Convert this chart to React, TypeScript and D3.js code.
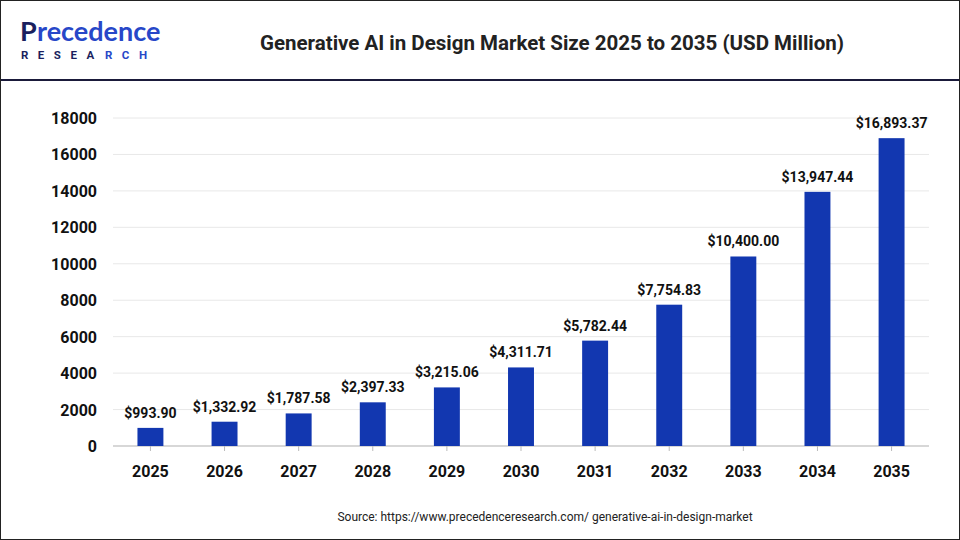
import React from "react";
import * as d3 from "d3";

const years = ["2025", "2026", "2027", "2028", "2029", "2030", "2031", "2032", "2033", "2034", "2035"];
const values = [993.9, 1332.92, 1787.58, 2397.33, 3215.06, 4311.71, 5782.44, 7754.83, 10400.0, 13947.44, 16893.37];
const yTicks = [0, 2000, 4000, 6000, 8000, 10000, 12000, 14000, 16000, 18000];

const App = () => {
  const W = 960, H = 540;
  const x = d3.scaleBand().domain(years).range([113, 929]).paddingInner(0.65).paddingOuter(0.33);
  const y = d3.scaleLinear().domain([0, 18000]).range([446, 118]);
  const fmt = d3.format(",.2f");
  const font = "Roboto, Arial, sans-serif";

  return (
    <div style={{ position: "absolute", left: 0, top: 0 }}>
      <svg width={W} height={H} style={{ display: "block", fontFamily: font }}>
        <rect x={0.5} y={0.5} width={W - 1} height={H - 1} fill="#fff" stroke="#222" />
        <line x1={1} x2={W - 1} y1={80} y2={80} stroke="#1a1a3a" strokeWidth={2} />
        <text x={20} y={41} fontSize={27} fontWeight={700} fill="#1b1f5e" fontFamily="Lato, sans-serif">P</text>
        <text x={37} y={41} fontSize={27} fontWeight={700} fill="#2747c8" fontFamily="Lato, sans-serif">recedence</text>
        <text x={21} y={59} fontSize={11.5} fontWeight={700} fill="#1b1f5e" letterSpacing={9.5}>RESEA</text>
        <text x={105} y={59} fontSize={11.5} fontWeight={700} fill="#2747c8" letterSpacing={9.5}>RCH</text>
        <text x={552} y={50} textAnchor="middle" fontSize={20.5} fontWeight={700} fill="#222">
          Generative AI in Design Market Size 2025 to 2035 (USD Million)
        </text>
        {yTicks.map((t) => (
          <g key={t}>
            <line x1={113} x2={929} y1={y(t)} y2={y(t)} stroke="#e8e8e8" />
            <text x={97} y={y(t) + 6} textAnchor="end" fontSize={16} fontWeight={700} fill="#111">
              {t}
            </text>
          </g>
        ))}
        <line x1={113} x2={929} y1={446} y2={446} stroke="#bbb" />
        {years.map((yr, i) => (
          <g key={yr}>
            <rect x={x(yr)} y={y(values[i])} width={x.bandwidth()} height={446 - y(values[i])} fill="#1237b0" />
            <text x={x(yr)! + x.bandwidth() / 2} y={y(values[i]) - 10} textAnchor="middle" fontSize={14} fontWeight={700} fill="#111">
              ${fmt(values[i])}
            </text>
            <line x1={x(yr)! + x.bandwidth() / 2} x2={x(yr)! + x.bandwidth() / 2} y1={446} y2={451} stroke="#bbb" />
            <text x={x(yr)! + x.bandwidth() / 2} y={477} textAnchor="middle" fontSize={16} fontWeight={700} fill="#111">
              {yr}
            </text>
          </g>
        ))}
        <text x={545} y={521} textAnchor="middle" fontSize={12} fill="#222">
          Source: https://www.precedenceresearch.com/ generative-ai-in-design-market
        </text>
      </svg>
    </div>
  );
};

export default App;
